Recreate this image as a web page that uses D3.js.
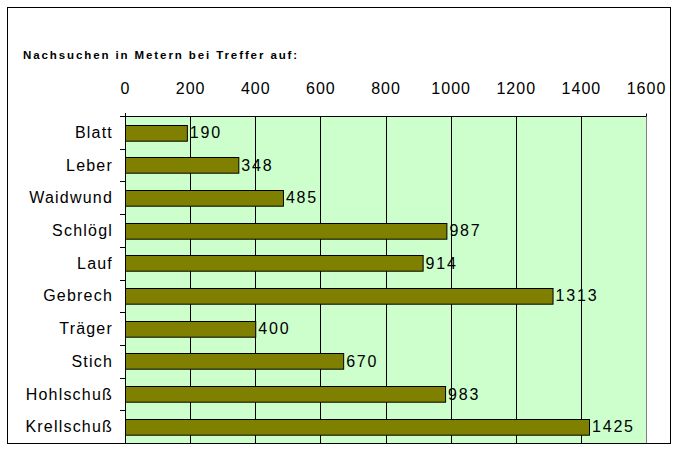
<!DOCTYPE html>
<html><head><meta charset="utf-8">
<script src="https://cdnjs.cloudflare.com/ajax/libs/d3/7.8.5/d3.min.js"></script>
<style>body{margin:0;background:#fff}svg{display:block}</style>
</head><body>
<script>
const categories = ["Blatt","Leber","Waidwund","Schlögl","Lauf","Gebrech","Träger","Stich","Hohlschuß","Krellschuß"];
const values = [190,348,485,987,914,1313,400,670,983,1425];
const xTicks = [0,200,400,600,800,1000,1200,1400,1600];
const title = "Nachsuchen in Metern bei Treffer auf:";

const W=678,H=451;
const FONT="Liberation Sans, Arial, sans-serif";
const svg=d3.select("body").append("svg").attr("width",W).attr("height",H);
svg.append("rect").attr("x",7.5).attr("y",7.5).attr("width",663).attr("height",436)
  .attr("fill","#fff").attr("stroke","#000").attr("stroke-width",1);

const L=125,R=646,T=116,B=443;
const x=d3.scaleLinear().domain([0,1600]).range([L,R]);
const y=d3.scaleBand().domain(categories).range([T,B]).paddingInner(0.52).paddingOuter(0.26);

svg.append("rect").attr("x",L).attr("y",T).attr("width",R-L).attr("height",B-T).attr("fill","#CCFFCC");

// gridlines
svg.append("g").selectAll("line").data(xTicks.slice(1,-1)).join("line")
  .attr("x1",d=>Math.round(x(d))+0.5).attr("x2",d=>Math.round(x(d))+0.5)
  .attr("y1",T).attr("y2",B).attr("stroke","#000");
svg.append("line").attr("x1",R+0.5).attr("x2",R+0.5).attr("y1",T).attr("y2",B).attr("stroke","#808080");

// top axis
const xAxis=d3.axisTop(x).tickValues(xTicks).tickSize(3).tickPadding(20).tickFormat(d3.format("d"));
const gx=svg.append("g").attr("transform",`translate(0,${T+0.5})`).call(xAxis);
gx.select(".domain").attr("d",`M${L},0H${R}`).attr("stroke","#000");
gx.selectAll(".tick line").attr("stroke","#000").attr("y2",d=>(d===0||d===1600)?-3:0);
gx.selectAll(".tick text").attr("font-family",FONT).attr("font-size",16)
  .attr("letter-spacing","1px").attr("fill","#000");

// left axis
svg.append("line").attr("x1",L+0.5).attr("x2",L+0.5).attr("y1",T-3).attr("y2",B).attr("stroke","#000");
const bounds=d3.range(categories.length+1).map(i=>T+i*(B-T)/categories.length);
svg.append("g").selectAll("line").data(bounds).join("line")
  .attr("x1",L-5).attr("x2",L).attr("y1",d=>Math.round(d)+0.5).attr("y2",d=>Math.round(d)+0.5).attr("stroke","#000");

svg.append("g").selectAll("text").data(categories).join("text")
  .attr("x",113).attr("y",d=>y(d)+y.bandwidth()/2).attr("dy","0.35em")
  .attr("text-anchor","end").attr("font-family",FONT).attr("font-size",16)
  .attr("letter-spacing","1.2px").text(d=>d);

// bars
svg.append("g").selectAll("rect").data(values).join("rect")
  .attr("x",L+0.5).attr("y",(d,i)=>Math.round(y(categories[i]))+0.5)
  .attr("width",d=>x(d)-L).attr("height",y.bandwidth())
  .attr("fill","#808000").attr("stroke","#000");

svg.append("g").selectAll("text").data(values).join("text")
  .attr("x",d=>x(d)+3).attr("y",(d,i)=>y(categories[i])+y.bandwidth()/2).attr("dy","0.35em")
  .attr("font-family",FONT).attr("font-size",16)
  .attr("letter-spacing","1.8px").text(d=>d);

svg.append("text").attr("x",23).attr("y",59).attr("font-family",FONT)
  .attr("font-weight","bold").attr("font-size",11.5).attr("letter-spacing","1.9px").text(title);
</script>
</body></html>
